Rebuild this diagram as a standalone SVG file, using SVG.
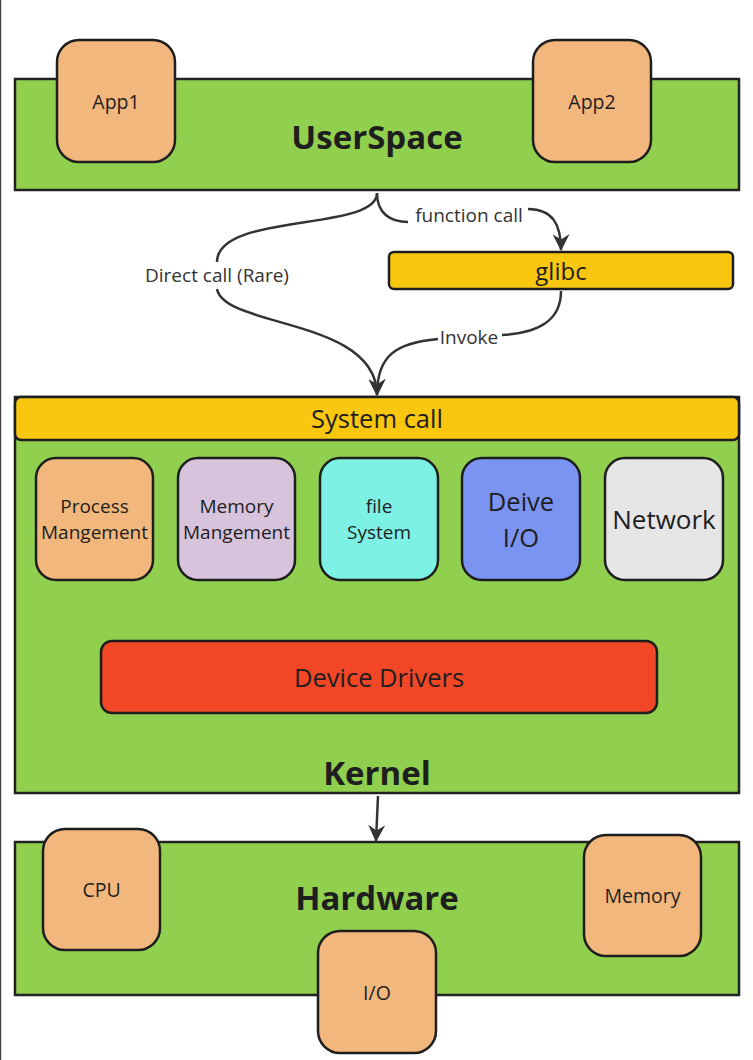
<svg xmlns="http://www.w3.org/2000/svg" width="753" height="1060" viewBox="0 0 753 1060">
<defs>
<style>
.layer{fill:#91d04f;stroke:#222;stroke-width:2.5}
.box{stroke:#1e1e1e;stroke-width:2.5}
.t{font-family:"Open Sans","Liberation Sans",sans-serif;fill:#1e1e1e;text-anchor:middle;dominant-baseline:central}
.title{font-weight:bold;font-size:33px}
.lbl{font-family:"Open Sans","Liberation Sans",sans-serif;fill:#333;font-size:19px;text-anchor:middle;dominant-baseline:central}
.c{fill:none;stroke:#333;stroke-width:2.5}
</style>
<marker id="ah" viewBox="0 0 16 16" refX="15" refY="8" markerWidth="17" markerHeight="17" markerUnits="userSpaceOnUse" orient="auto">
<path d="M0,0 L16,8 L0,16 L5,8 z" fill="#333"/>
</marker>
</defs>
<rect x="0" y="0" width="753" height="1060" fill="#fff"/>
<line x1="0.5" y1="0" x2="0.5" y2="1060" stroke="#444" stroke-width="1.5"/>

<g id="userspace">
<rect class="layer" x="15" y="79" width="724" height="111"/>
<text class="t title" x="377" y="136">UserSpace</text>
</g>
<g id="app1">
<rect class="box" x="57" y="40" width="118" height="122" rx="22" fill="#f2b77c"/>
<text class="t" x="116" y="101" font-size="19.5">App1</text>
</g>
<g id="app2">
<rect class="box" x="533" y="40" width="118" height="122" rx="22" fill="#f2b77c"/>
<text class="t" x="592" y="101" font-size="19.5">App2</text>
</g>

<g id="glibc">
<rect class="box" x="389" y="252" width="344" height="37" rx="5" fill="#fac710"/>
<text class="t" x="561" y="270" font-size="24">glibc</text>
</g>

<g id="kernel">
<rect class="layer" x="15" y="397" width="724" height="396"/>
<text class="t title" x="377" y="772">Kernel</text>
</g>
<g id="syscall">
<rect class="box" x="15" y="397" width="724" height="43" rx="6" fill="#fac710"/>
<text class="t" x="377" y="418" font-size="25.5">System call</text>
</g>
<g id="process">
<rect class="box" x="36" y="458" width="117" height="122" rx="20" fill="#f2b77c"/>
<text class="t" x="94.5" font-size="19"><tspan x="94.5" y="506">Process</tspan><tspan x="94.5" y="532">Mangement</tspan></text>
</g>
<g id="memmgmt">
<rect class="box" x="178" y="458" width="117" height="122" rx="20" fill="#d8c3dd"/>
<text class="t" x="236.5" font-size="19"><tspan x="236.5" y="506">Memory</tspan><tspan x="236.5" y="532">Mangement</tspan></text>
</g>
<g id="filesystem">
<rect class="box" x="320" y="458" width="118" height="122" rx="20" fill="#7df1e4"/>
<text class="t" x="379" font-size="19"><tspan x="379" y="506">file</tspan><tspan x="379" y="532">System</tspan></text>
</g>
<g id="deviceio">
<rect class="box" x="462" y="458" width="118" height="122" rx="20" fill="#7b93f1"/>
<text class="t" x="521" font-size="25.5"><tspan x="521" y="501">Deive</tspan><tspan x="521" y="537">I/O</tspan></text>
</g>
<g id="network">
<rect class="box" x="605" y="458" width="118" height="122" rx="20" fill="#e6e6e6"/>
<text class="t" x="664" y="519" font-size="26">Network</text>
</g>
<g id="drivers">
<rect class="box" x="101" y="641" width="556" height="72" rx="11" fill="#f24726"/>
<text class="t" x="379" y="677" font-size="25.5">Device Drivers</text>
</g>

<g id="hardware">
<rect class="layer" x="15" y="842" width="724" height="153"/>
<text class="t title" x="377" y="897">Hardware</text>
</g>
<g id="cpu">
<rect class="box" x="43" y="829" width="117" height="121" rx="22" fill="#f2b77c"/>
<text class="t" x="101.5" y="889" font-size="19.5">CPU</text>
</g>
<g id="memory">
<rect class="box" x="584" y="835" width="117" height="121" rx="22" fill="#f2b77c"/>
<text class="t" x="642.5" y="895" font-size="19.5">Memory</text>
</g>
<g id="io">
<rect class="box" x="318" y="931" width="118" height="122" rx="22" fill="#f2b77c"/>
<text class="t" x="377" y="992" font-size="19.5">I/O</text>
</g>

<g id="connectors">
<path class="c" d="M377,193 C377,232 217,212 217,262"/>
<path class="c" d="M217,289 C224,328 377,318 377,395" marker-end="url(#ah)"/>
<text class="lbl" x="217" y="275">Direct call (Rare)</text>
<path class="c" d="M377,193 C377,213 390,222 408,222"/>
<path class="c" d="M528,209 C553,209 561,225 561,250" marker-end="url(#ah)"/>
<text class="lbl" x="469" y="215">function call</text>
<path class="c" d="M561,291 C561,320 540,333 502,335"/>
<path class="c" d="M438,339 C395,343 377,356 377,395" marker-end="url(#ah)"/>
<text class="lbl" x="469" y="337">Invoke</text>
<path class="c" d="M378,796 L376,841" marker-end="url(#ah)"/>
</g>
</svg>
